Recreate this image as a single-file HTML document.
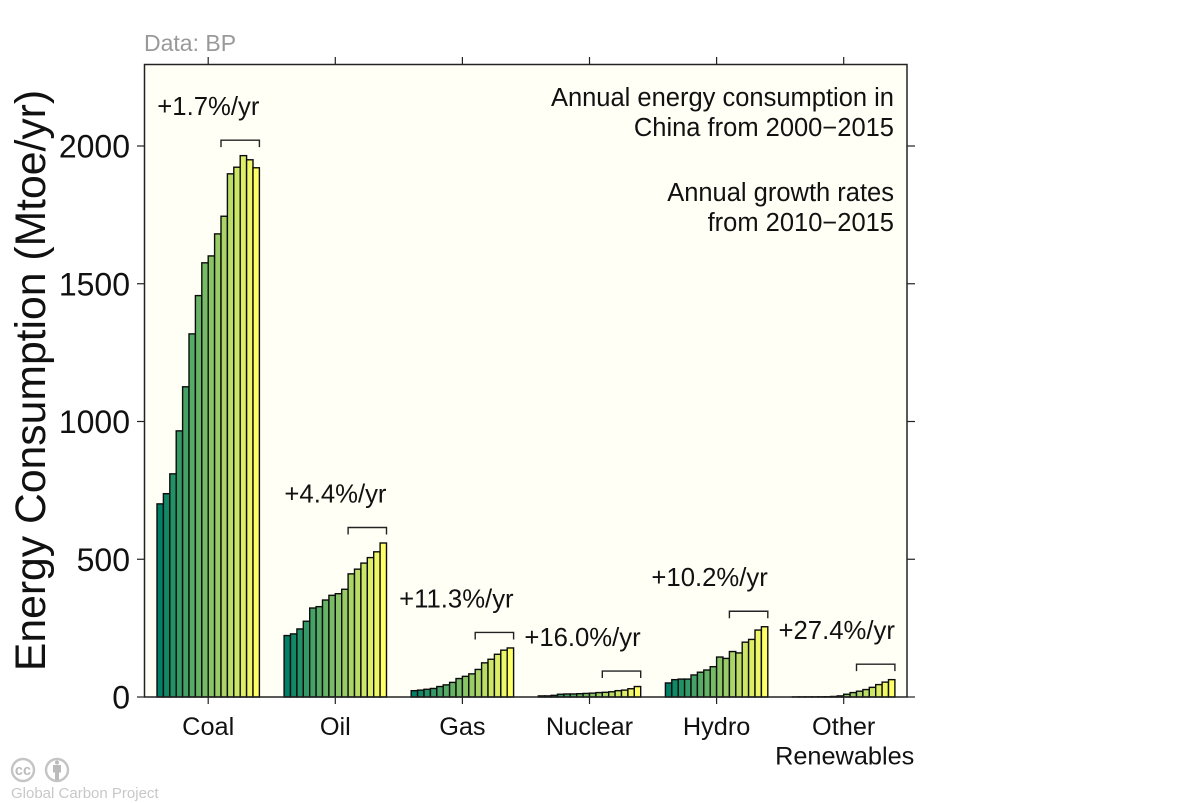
<!DOCTYPE html>
<html>
<head>
<meta charset="utf-8">
<title>Annual energy consumption in China</title>
<style>
html,body{margin:0;padding:0;background:#fff;width:1200px;height:803px;overflow:hidden}
svg{display:block}
text{font-family:"Liberation Sans",Arial,sans-serif;fill:#111}
</style>
</head>
<body>
<svg id="chart" width="1200" height="803" viewBox="0 0 1200 803" xmlns="http://www.w3.org/2000/svg">
  <rect x="144.5" y="64.5" width="762.5" height="632.5" fill="#fffff6"/>
  <g id="bars"></g>
  <g id="brackets"></g>
  <g id="ticks"></g>
  <rect x="144.5" y="64.5" width="762.5" height="632.5" fill="none" stroke="#222" stroke-width="1.5"/>
  <text transform="translate(45,380.5) rotate(-90)" text-anchor="middle" font-size="42.7">Energy Consumption (Mtoe/yr)</text>
  <text x="144" y="51" font-size="23" style="fill:#999">Data: BP</text>
  <g font-size="25.5" text-anchor="end">
    <text x="894" y="106">Annual energy consumption in</text>
    <text x="894" y="136">China from 2000−2015</text>
    <text x="894" y="201">Annual growth rates</text>
    <text x="894" y="231">from 2010−2015</text>
  </g>
  <g fill="none" stroke="#c4c4c4">
    <circle cx="23" cy="770" r="11" stroke-width="2.4"/>
    <text x="23" y="775" font-size="14.5" font-weight="bold" text-anchor="middle" stroke="none" style="fill:#bbb">cc</text>
    <circle cx="57" cy="770" r="11" stroke-width="2.4"/>
    <path d="M53 765h8v7.500h-2v7.500h-4v-7.500h-2z" fill="#bbb" stroke="none"/>
    <circle cx="57" cy="762.500" r="2" fill="#bbb" stroke="none"/>
  </g>
  <text x="11" y="798" font-size="15" style="fill:#c8c8c8">Global Carbon Project</text>
</svg>
<script>
const categories = ["Coal", "Oil", "Gas", "Nuclear", "Hydro", "Other Renewables"];
const coal = [701, 738, 810, 966, 1126, 1318, 1457, 1576, 1601, 1681, 1745, 1899, 1923, 1965, 1950, 1921];
const oil = [223, 229, 247, 275, 323, 328, 352, 369, 375, 391, 447, 464, 486, 506, 527, 559];
const gas = [23, 25, 28, 31, 38, 44, 53, 67, 75, 84, 100, 124, 137, 155, 170, 178];
const nuclear = [4, 4, 6, 10, 11, 11, 12, 13, 14, 16, 17, 19, 23, 25, 30, 38];
const hydro = [51, 63, 65, 65, 80, 90, 98, 110, 145, 140, 165, 160, 199, 209, 243, 255];
const otherRenewables = [0.3, 0.4, 0.5, 0.6, 0.8, 1, 2, 4, 10, 16, 21, 27, 35, 45, 54, 63];
const seriesValues = [coal, oil, gas, nuclear, hydro, otherRenewables];
const growthLabels = ["+1.7%/yr", "+4.4%/yr", "+11.3%/yr", "+16.0%/yr", "+10.2%/yr", "+27.4%/yr"];
const yTickValues = [0, 500, 1000, 1500, 2000];

const NS = "http://www.w3.org/2000/svg";
const y0 = 697, pxPerUnit = 551 / 2000;
const yScale = v => y0 - v * pxPerUnit;
const groupLeft = i => 157 + i * 127.1;
const barW = 6.4;
const groupCenter = i => groupLeft(i) + 51.2;

function make(tag, parent, attrs) {
  const el = document.createElementNS(NS, tag);
  for (const k in attrs) el.setAttribute(k, attrs[k]);
  parent.appendChild(el);
  return el;
}
function rampColor(t) {
  return "rgb(" + Math.round(255 * t) + "," + Math.round(128 + 127 * t) + ",102)";
}

const barsG = document.getElementById("bars");
const bracketsG = document.getElementById("brackets");
const ticksG = document.getElementById("ticks");
const chart = document.getElementById("chart");

seriesValues.forEach((vals, i) => {
  vals.forEach((v, j) => {
    const top = yScale(v);
    const bar = make("rect", barsG, {
      x: groupLeft(i) + j * barW, y: top, width: barW, height: y0 - top,
      fill: rampColor(j / 15), stroke: "#0c0c0c", "stroke-width": 1.4
    });
    
    
  });
  const right = groupLeft(i) + 16 * barW;
  const peak = yScale(Math.max.apply(null, vals));
  const by = peak - 15.5;
  const bl = right - 6 * barW;
  const br = make("path", bracketsG, {
    d: "M" + bl + " " + (by + 7) + "V" + by + "H" + right + "V" + (by + 7),
    fill: "none", stroke: "#222", "stroke-width": 1.4
  });
  
  
  const lab = make("text", chart, {x: right, y: by - 25, "text-anchor": "end", "font-size": 25.7});
  lab.textContent = growthLabels[i];
  
  

  const cx = groupCenter(i);
  const t1 = make("line", ticksG, {x1: cx, x2: cx, y1: y0, y2: y0 + 7, stroke: "#222", "stroke-width": 1.2});
  
  
  const t2 = make("line", ticksG, {x1: cx, x2: cx, y1: 57, y2: 64, stroke: "#222", "stroke-width": 1.2});
  
  

  const parts = categories[i].split(" ");
  parts.forEach((p, k) => {
    const c = make("text", chart, {x: cx + (k === 1 ? 1 : 0), y: 735 + k * 29.5, "text-anchor": "middle", "font-size": 25.3});
    c.textContent = p;
    
    
  });
});

yTickValues.forEach(v => {
  const y = yScale(v);
  const a = make("line", ticksG, {x1: 137, x2: 144, y1: y, y2: y, stroke: "#222", "stroke-width": 1.2});
  
  
  const b = make("line", ticksG, {x1: 907, x2: 915, y1: y, y2: y, stroke: "#222", "stroke-width": 1.2});
  
  
  const t = make("text", chart, {x: 130, y: y + 11.5, "text-anchor": "end", "font-size": 32});
  t.textContent = v;
  
  
});
</script>
</body>
</html>
